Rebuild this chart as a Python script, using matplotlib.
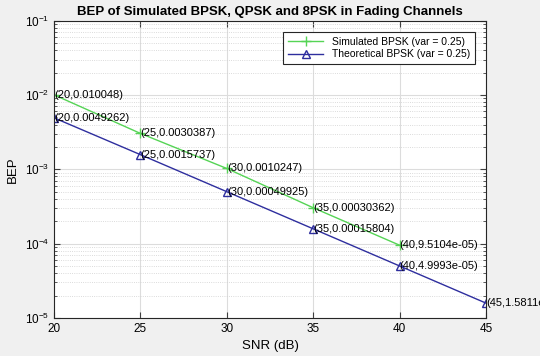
import matplotlib.pyplot as plt
from matplotlib.ticker import LogLocator, NullFormatter

snr_sim = [20, 25, 30, 35, 40]
bep_sim = [0.010048, 0.0030387, 0.0010247, 0.00030362, 9.5104e-05]
lbl_sim = ['(20,0.010048)', '(25,0.0030387)', '(30,0.0010247)',
           '(35,0.00030362)', '(40,9.5104e-05)']

snr_th = [20, 25, 30, 35, 40, 45]
bep_th = [0.0049262, 0.0015737, 0.00049925, 0.00015804, 4.9993e-05, 1.5811e-05]
lbl_th = ['(20,0.0049262)', '(25,0.0015737)', '(30,0.00049925)',
          '(35,0.00015804)', '(40,4.9993e-05)', '(45,1.5811e-05)']

plt.rcParams['font.family'] = ['Liberation Sans', 'DejaVu Sans']

fig = plt.figure(figsize=(5.4, 3.56), dpi=100, facecolor='#f0f0f0')
ax = fig.add_axes([0.1, 0.107, 0.8, 0.835])

green = '#55d455'
blue = '#2e2e9e'
ax.semilogy(snr_sim, bep_sim, color=green, marker='+', ms=7, lw=1,
            label='Simulated BPSK (var = 0.25)')
ax.semilogy(snr_th, bep_th, color=blue, marker='^', ms=5.5, mfc='none', lw=1,
            label='Theoretical BPSK (var = 0.25)')

# data tips, left aligned at the point (last one runs past the figure edge)
for x, y, t in zip(snr_sim, bep_sim, lbl_sim):
    ax.text(x, y, t, fontsize=8, ha='left', va='center', clip_on=False)
for x, y, t in zip(snr_th, bep_th, lbl_th):
    ax.text(x, y, t, fontsize=8, ha='left', va='center', clip_on=False)

ax.set_xlim(20, 45)
ax.set_ylim(1e-5, 1e-1)
ax.set_xticks([20, 25, 30, 35, 40, 45])
ax.yaxis.set_major_locator(LogLocator(base=10, numticks=10))
ax.yaxis.set_minor_locator(LogLocator(base=10, subs=range(2, 10), numticks=20))
ax.yaxis.set_minor_formatter(NullFormatter())

ax.grid(True, which='major', color='#dcdcdc', lw=0.8)
ax.grid(True, which='minor', axis='y', color='#cfcfcf', lw=0.6, ls=':')
ax.tick_params(which='both', direction='in', top=True, right=True,
               labelsize=8.5, color='#404040')
ax.tick_params(which='major', length=4)
ax.tick_params(which='minor', length=2)
for s in ax.spines.values():
    s.set_color('#262626')
    s.set_linewidth(0.8)

ax.set_title('BEP of Simulated BPSK, QPSK and 8PSK in Fading Channels',
             fontsize=9.5, fontweight='bold', pad=4)
ax.set_xlabel('SNR (dB)', fontsize=9.5)
ax.set_ylabel('BEP', fontsize=9.5)

leg = ax.legend(loc='upper right', fontsize=7.5, fancybox=False,
                edgecolor='#262626', framealpha=1, borderaxespad=1.1,
                handlelength=3.4, borderpad=0.45, labelspacing=0.25)
leg.get_frame().set_linewidth(0.8)

fig.savefig('out.png', dpi=100, facecolor=fig.get_facecolor())
